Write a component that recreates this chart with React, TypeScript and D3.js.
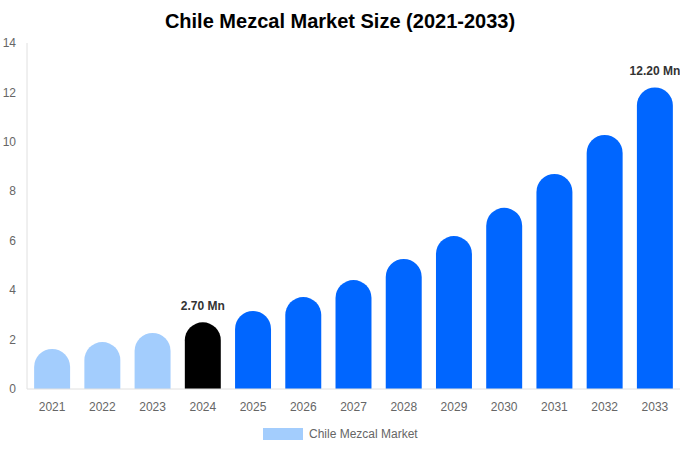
import { useEffect, useRef } from 'react'
import * as d3 from 'd3'

const years = ['2021', '2022', '2023', '2024', '2025', '2026', '2027', '2028', '2029', '2030', '2031', '2032', '2033']
const marketSize = [1.62, 1.9, 2.27, 2.7, 3.16, 3.72, 4.41, 5.26, 6.19, 7.33, 8.7, 10.28, 12.2]
const barColors = [
  '#a3cdfd', '#a3cdfd', '#a3cdfd', '#000000',
  '#0066ff', '#0066ff', '#0066ff', '#0066ff', '#0066ff', '#0066ff', '#0066ff', '#0066ff', '#0066ff',
]
const yTicks = [0, 2, 4, 6, 8, 10, 12, 14]
const labelled: Record<string, string> = { '2024': '2.70 Mn', '2033': '12.20 Mn' }

const width = 680
const height = 450
const font = '"Liberation Sans", Arial, sans-serif'

export default function App() {
  const svgRef = useRef<SVGSVGElement | null>(null)

  useEffect(() => {
    const svgElement = svgRef.current
    if (!svgElement) return
    const svg = d3.select(svgElement)
    svg.selectAll('*').remove()

    const margin = { top: 43, right: 0, bottom: 61, left: 27 }
    const innerWidth = width - margin.left - margin.right
    const innerHeight = height - margin.top - margin.bottom

    const x = d3.scaleBand().domain(years).range([0, innerWidth]).paddingInner(0.284).paddingOuter(0.142)
    const y = d3.scaleLinear().domain([0, 14]).range([innerHeight, 0])

    svg
      .append('text')
      .attr('x', width / 2)
      .attr('y', 28)
      .attr('text-anchor', 'middle')
      .attr('font-family', font)
      .attr('font-size', '20px')
      .attr('font-weight', 'bold')
      .attr('fill', '#000')
      .text('Chile Mezcal Market Size (2021-2033)')

    const g = svg.append('g').attr('transform', `translate(${margin.left},${margin.top})`)

    // y axis
    g.append('line')
      .attr('x1', 0).attr('x2', 0).attr('y1', 0).attr('y2', innerHeight)
      .attr('stroke', '#e0e0e0')
    g.selectAll('.ytick')
      .data(yTicks)
      .join('text')
      .attr('x', -11)
      .attr('y', (d) => y(d))
      .attr('dy', '0.35em')
      .attr('text-anchor', 'end')
      .attr('font-family', font)
      .attr('font-size', '12px')
      .attr('fill', '#666')
      .text((d) => d)

    // bars with rounded tops
    const bw = x.bandwidth()
    const r = bw / 2
    g.selectAll('.bar')
      .data(years)
      .join('path')
      .attr('fill', (_, i) => barColors[i])
      .attr('d', (d, i) => {
        const x0 = x(d) as number
        const top = y(marketSize[i])
        const base = y(0)
        const rr = Math.min(r, base - top)
        return `M${x0},${base}V${top + rr}A${rr},${rr} 0 0 1 ${x0 + bw},${top + rr}V${base}Z`
      })

    // baseline
    g.append('line')
      .attr('x1', 0).attr('x2', innerWidth).attr('y1', innerHeight).attr('y2', innerHeight)
      .attr('stroke', '#e0e0e0')

    // x labels
    g.selectAll('.xtick')
      .data(years)
      .join('text')
      .attr('x', (d) => (x(d) as number) + bw / 2)
      .attr('y', innerHeight + 22)
      .attr('text-anchor', 'middle')
      .attr('font-family', font)
      .attr('font-size', '12px')
      .attr('fill', '#666')
      .text((d) => d)

    // value labels
    g.selectAll('.vlabel')
      .data(years.filter((d) => labelled[d]))
      .join('text')
      .attr('x', (d) => (x(d) as number) + bw / 2)
      .attr('y', (d) => y(marketSize[years.indexOf(d)]) - 12)
      .attr('text-anchor', 'middle')
      .attr('font-family', font)
      .attr('font-size', '12px')
      .attr('font-weight', 'bold')
      .attr('fill', '#333')
      .text((d) => labelled[d])

    // legend
    svg.append('rect')
      .attr('x', 263).attr('y', 428).attr('width', 40).attr('height', 12)
      .attr('fill', '#a3cdfd')
    svg.append('text')
      .attr('x', 309)
      .attr('y', 434)
      .attr('dy', '0.35em')
      .attr('font-family', font)
      .attr('font-size', '12px')
      .attr('fill', '#666')
      .text('Chile Mezcal Market')
  }, [])

  return (
    <svg
      ref={svgRef}
      width={width}
      height={height}
      style={{ position: 'absolute', left: 0, top: 0, background: '#fff' }}
    />
  )
}
